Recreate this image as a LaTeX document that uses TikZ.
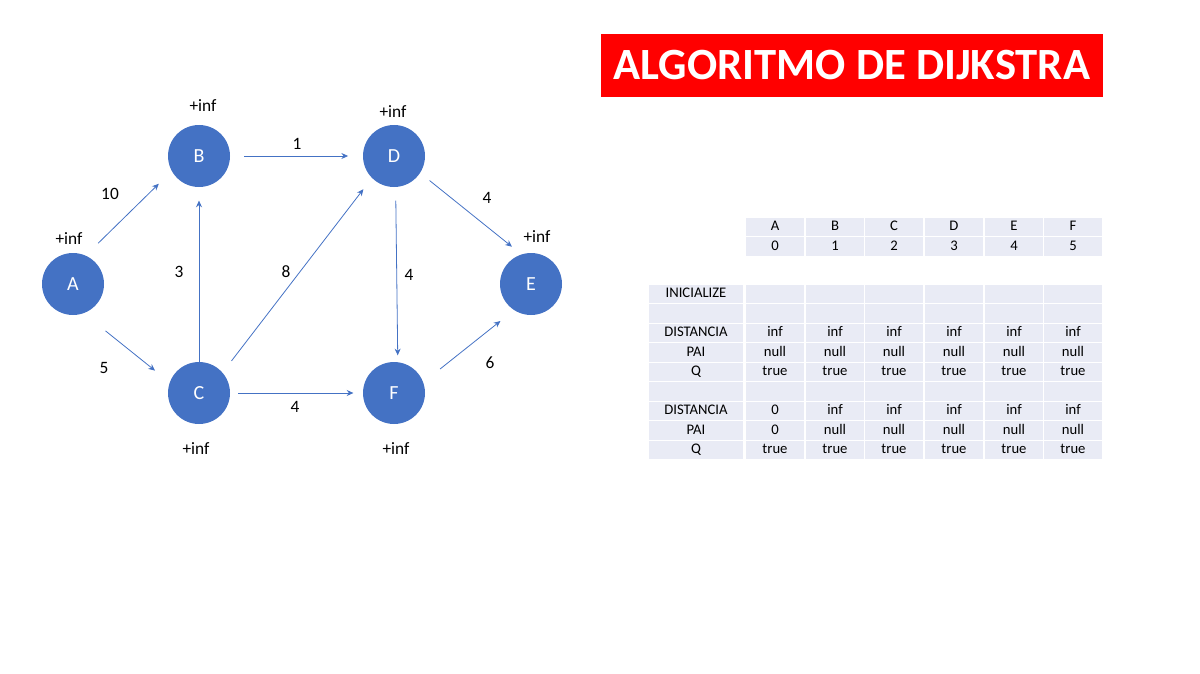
\documentclass[tikz,border=0pt]{standalone}
\usepackage{fontspec}
\setmainfont{Carlito}
\usetikzlibrary{arrows.meta}
\definecolor{nodeblue}{RGB}{68,114,196}
\definecolor{cellgray}{RGB}{233,235,245}
\definecolor{titlered}{RGB}{255,0,0}
\begin{document}
\begin{tikzpicture}[x=0.75pt,y=-0.75pt,
  vertex/.style={circle,fill=nodeblue,text=white,minimum size=46.5pt,inner sep=0pt,font=\fontsize{15}{17}\selectfont},
  edge/.style={draw=nodeblue,line width=0.6pt,-{Stealth[length=5pt,width=4.5pt]}},
  wlab/.style={font=\fontsize{13}{15}\selectfont},
  cell/.style={draw=white,line width=1pt,fill=cellgray,minimum width=44.6pt,minimum height=14.6pt,inner sep=0pt,
    text height=1.45ex,text depth=0.3ex,font=\fontsize{11}{13}\selectfont}]
  \useasboundingbox (0,0) rectangle (1200,674);
  % title
  \node[fill=titlered,text=white,font=\bfseries\fontsize{33.5}{38}\selectfont,
    minimum width=376.5pt,minimum height=47.25pt] (title) at (852,65.5) {ALGORITMO DE DIJKSTRA};
  % graph
  \foreach \n/\x/\y in {A/73/284, B/199/156, C/199/393, D/394/156, E/531/284, F/394/393}
    \node[vertex] (\n) at (\x,\y) {\n};
  \foreach \a/\b/\s/\t in {A.66/B.209/13pt/13.5pt, A.-70/C.160/21pt/14pt, B.east/D.west/10.5pt/11pt,
      C.north/B.south/0pt/10pt, C.41/D.225/11pt/10.5pt, D.-33/E.108/9pt/9pt,
      D.-87/F.83/10pt/5pt, C.east/F.180/6pt/7pt, F.20/E.237/16pt/13pt}
    \draw[edge,shorten <=\s,shorten >=\t] (\a) -- (\b);
  % weights
  \foreach \i/\x/\y/\w in {ab/110/194/10, ac/104/368/5, bd/297/144/1, cb/179/272/3, cd/286/272/8,
      de/487/198/4, df/409/275/4, cf/295/407/4, fe/490/363/6}
    \node[wlab] (w-\i) at (\x,\y) {\w};
  % distances
  \foreach \n/\x/\y in {A/69/239, B/203/106, D/393/112, E/537/237, C/196/449, F/396/449}
    \node[wlab] (d-\n) at (\x,\y) {+inf};
  % index table
  \foreach \c/\x/\l in {0/775/A, 1/835/B, 2/894/C, 3/954/D, 4/1014/E, 5/1073/F} {
    \node[cell] (h-\c) at (\x,227) {\l};
    \node[cell] (i-\c) at (\x,246.5) {\c};
  }
  % state table
  \foreach \r/\y/\lab/\va/\vb in {1/294/INICIALIZE//, 2/313.5///, 3/333/DISTANCIA/inf/inf,
      4/352.5/PAI/null/null, 5/372/Q/true/true, 6/391.5///,
      7/411/DISTANCIA/0/inf, 8/430.5/PAI/0/null, 9/450/Q/true/true} {
    \node[cell,minimum width=72pt] (s-\r-0) at (696,\y) {\lab};
    \node[cell] (s-\r-1) at (775,\y) {\va};
    \foreach \c/\x in {2/835, 3/894, 4/954, 5/1014, 6/1073}
      \node[cell] (s-\r-\c) at (\x,\y) {\vb};
  }
\end{tikzpicture}
\end{document}
